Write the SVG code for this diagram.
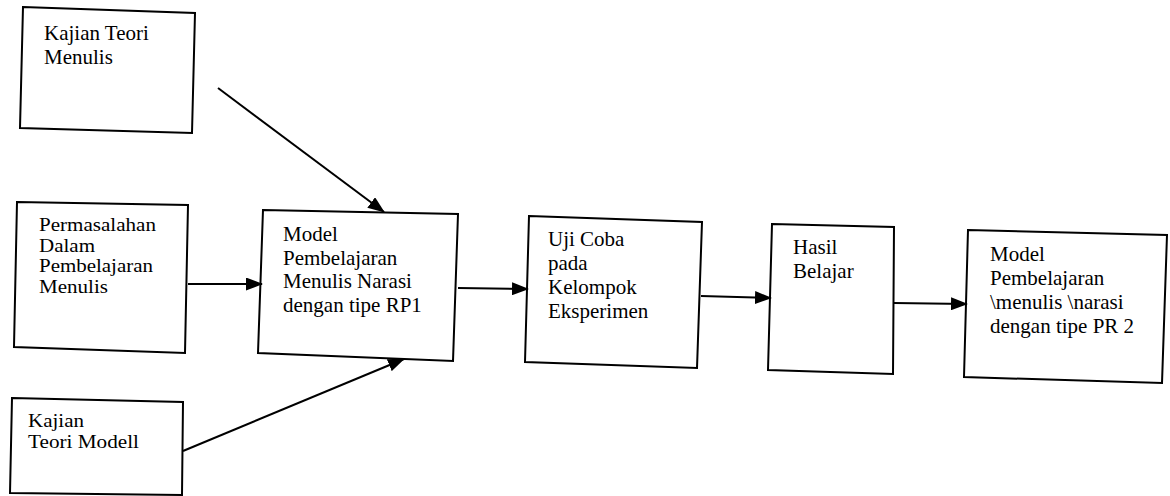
<svg xmlns="http://www.w3.org/2000/svg" width="1170" height="496" viewBox="0 0 1170 496">
<defs>
<style>
.box{fill:#fff;stroke:#000;stroke-width:2;stroke-linejoin:miter}
.t{font-family:"Liberation Serif","Times New Roman",serif;font-size:21px;fill:#000}
.s{font-size:18px}
.c{stroke:#000;stroke-width:2;fill:none}
</style>
<marker id="ah" markerWidth="17" markerHeight="13" refX="16" refY="6.5" orient="auto" markerUnits="userSpaceOnUse">
<path d="M0,0 L17,6.5 L0,13 Z" fill="#000"/>
</marker>
</defs>
<rect width="1170" height="496" fill="#fff"/>
<g id="n-kajian-menulis">
<polygon class="box" points="23,7 195,13 192,133 20,128"/>
<text class="t" x="44" y="40">Kajian Teori</text>
<text class="t" x="44" y="64">Menulis</text>
</g>
<g id="n-permasalahan">
<polygon class="box" points="17,202 188,205 185,353 14,347"/>
<text class="t s" x="39" y="231" textLength="117" lengthAdjust="spacingAndGlyphs">Permasalahan</text>
<text class="t s" x="39" y="251.5" textLength="56" lengthAdjust="spacingAndGlyphs">Dalam</text>
<text class="t s" x="39" y="272" textLength="114" lengthAdjust="spacingAndGlyphs">Pembelajaran</text>
<text class="t s" x="39" y="292.5" textLength="69" lengthAdjust="spacingAndGlyphs">Menulis</text>
</g>
<g id="n-kajian-model">
<polygon class="box" points="12,398 183,402 182,495 10,493"/>
<text class="t s" x="28" y="427" textLength="56" lengthAdjust="spacingAndGlyphs">Kajian</text>
<text class="t s" x="28" y="448" textLength="111" lengthAdjust="spacingAndGlyphs">Teori Modell</text>
</g>
<g id="n-model-rp1">
<polygon class="box" points="263,210 458,214 453,361 258,353"/>
<text class="t" x="283" y="241">Model</text>
<text class="t" x="283" y="264.5">Pembelajaran</text>
<text class="t" x="283" y="288">Menulis Narasi</text>
<text class="t" x="283" y="311.5">dengan tipe RP1</text>
</g>
<g id="n-uji-coba">
<polygon class="box" points="529,216 702,222 697,368 525,362"/>
<text class="t" x="548" y="246">Uji Coba</text>
<text class="t" x="548" y="270">pada</text>
<text class="t" x="548" y="294">Kelompok</text>
<text class="t" x="548" y="318">Eksperimen</text>
</g>
<g id="n-hasil">
<polygon class="box" points="772,224 894,227 893,374 768,370"/>
<text class="t" x="793" y="254">Hasil</text>
<text class="t" x="793" y="278">Belajar</text>
</g>
<g id="n-model-pr2">
<polygon class="box" points="968,230 1167,235 1162,383 964,377"/>
<text class="t" x="990" y="261">Model</text>
<text class="t" x="990" y="285">Pembelajaran</text>
<text class="t" x="990" y="309">\menulis \narasi</text>
<text class="t" x="990" y="333">dengan tipe PR 2</text>
</g>
<g id="connectors">
<line class="c" x1="218" y1="88" x2="384" y2="212" marker-end="url(#ah)"/>
<line class="c" x1="188" y1="284" x2="262" y2="284" marker-end="url(#ah)"/>
<line class="c" x1="183" y1="451" x2="404" y2="359" marker-end="url(#ah)"/>
<line class="c" x1="458" y1="288" x2="528" y2="289" marker-end="url(#ah)"/>
<line class="c" x1="701" y1="296" x2="771" y2="298" marker-end="url(#ah)"/>
<line class="c" x1="894" y1="303" x2="967" y2="304" marker-end="url(#ah)"/>
</g>
</svg>
